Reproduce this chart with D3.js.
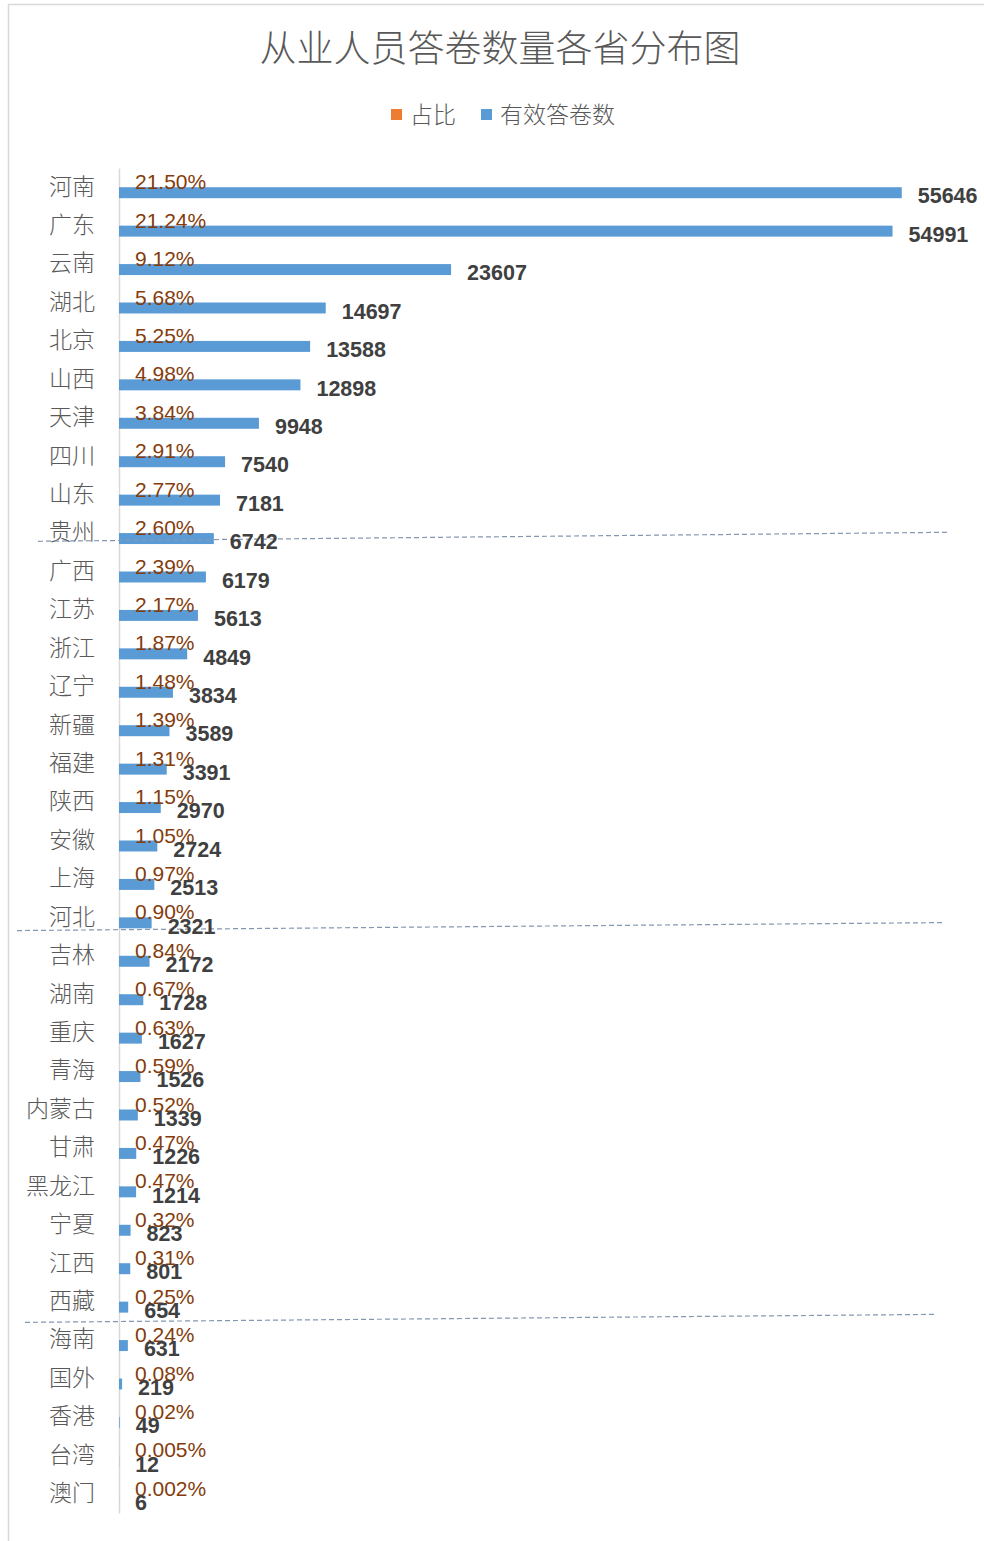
<!DOCTYPE html>
<html>
<head>
<meta charset="utf-8">
<script src="https://cdn.jsdelivr.net/npm/d3@7/dist/d3.min.js"></script>
<style>
  body { margin: 0; background: #fff; }
  svg { display: block; }
</style>
</head>
<body>
<div id="chart"></div>
<script>
// data
const provinces = ["河南", "广东", "云南", "湖北", "北京", "山西", "天津", "四川", "山东", "贵州",
  "广西", "江苏", "浙江", "辽宁", "新疆", "福建", "陕西", "安徽", "上海", "河北",
  "吉林", "湖南", "重庆", "青海", "内蒙古", "甘肃", "黑龙江", "宁夏", "江西", "西藏",
  "海南", "国外", "香港", "台湾", "澳门"];
const counts = [55646, 54991, 23607, 14697, 13588, 12898, 9948, 7540, 7181, 6742,
  6179, 5613, 4849, 3834, 3589, 3391, 2970, 2724, 2513, 2321,
  2172, 1728, 1627, 1526, 1339, 1226, 1214, 823, 801, 654,
  631, 219, 49, 12, 6];
const shares = ["21.50%", "21.24%", "9.12%", "5.68%", "5.25%", "4.98%", "3.84%", "2.91%", "2.77%", "2.60%",
  "2.39%", "2.17%", "1.87%", "1.48%", "1.39%", "1.31%", "1.15%", "1.05%", "0.97%", "0.90%",
  "0.84%", "0.67%", "0.63%", "0.59%", "0.52%", "0.47%", "0.47%", "0.32%", "0.31%", "0.25%",
  "0.24%", "0.08%", "0.02%", "0.005%", "0.002%"];
const series = ["占比", "有效答卷数"];
const seriesColors = ["#ED7D31", "#5B9BD5"];
// hand drawn dashed separators after these rows (top 10 / 20 / 30)
const separators = ["贵州", "河北", "西藏"];
const sepLeft = [38, 17, 25];
const sepRight = [950, 945, 937];
const sepDyLeft = [-11, -6, 1.5];
const sepDyRight = [-20, -14, -6.5];

const W = 984, H = 1541;
const cjk = "'Noto Sans CJK SC', 'Noto Sans', sans-serif";
const num = "'Liberation Sans', Arial, sans-serif";

const svg = d3.select("#chart").append("svg")
  .attr("width", W).attr("height", H);

// chart frame
svg.append("path")
  .attr("d", `M8.5,${H} V4.5 H${W}`)
  .attr("fill", "none").attr("stroke", "#D9D9D9").attr("stroke-width", 1.5);

const x = d3.scaleLinear().domain([0, 60000]).range([119, 963]);
const y = d3.scaleBand().domain(provinces).range([168, 1513]);
const ys = d3.scaleBand().domain(series).range([0, y.bandwidth()]).paddingOuter(0.75);

// title
svg.append("text")
  .attr("x", 500).attr("y", 62)
  .attr("text-anchor", "middle")
  .attr("font-family", cjk).attr("font-weight", 300)
  .attr("font-size", 37).attr("fill", "#595959")
  .text("从业人员答卷数量各省分布图");

// legend
const legend = svg.append("g");
const legX = [391, 481];
series.forEach((s, i) => {
  legend.append("rect")
    .attr("x", legX[i]).attr("y", 109).attr("width", 11).attr("height", 11)
    .attr("fill", seriesColors[i]);
  legend.append("text")
    .attr("x", legX[i] + 19).attr("y", 123)
    .attr("font-family", cjk).attr("font-weight", 300)
    .attr("font-size", 23).attr("fill", "#595959")
    .text(s);
});

// category axis
const axis = svg.append("g")
  .attr("transform", `translate(${x(0)},0)`)
  .call(d3.axisLeft(y).tickSize(0).tickPadding(24));
axis.select(".domain").attr("stroke", "#D9D9D9").attr("stroke-width", 1.5);
axis.selectAll("text")
  .attr("font-family", cjk).attr("font-weight", 300)
  .attr("font-size", 23).attr("fill", "#595959")
  .attr("dy", "0.32em");

const rows = provinces.map((p, i) => ({ p, count: counts[i], share: shares[i] }));

// 有效答卷数 bars
svg.append("g").selectAll("rect").data(rows).join("rect")
  .attr("x", x(0))
  .attr("y", d => y(d.p) + ys("有效答卷数"))
  .attr("width", d => x(d.count) - x(0))
  .attr("height", ys.bandwidth())
  .attr("fill", seriesColors[1]);

// 占比 bars (fractions, invisible at this scale)
svg.append("g").selectAll("rect").data(rows).join("rect")
  .attr("x", x(0))
  .attr("y", d => y(d.p) + ys("占比"))
  .attr("width", d => x(parseFloat(d.share) / 100) - x(0))
  .attr("height", ys.bandwidth())
  .attr("fill", seriesColors[0]);

// separators
separators.forEach((s, i) => {
  const yb = y(s) + y.step();
  svg.append("line")
    .attr("x1", sepLeft[i]).attr("x2", sepRight[i])
    .attr("y1", yb + sepDyLeft[i]).attr("y2", yb + sepDyRight[i])
    .attr("stroke", "#8497B0").attr("stroke-width", 1.2)
    .attr("stroke-dasharray", "5,3");
});

// share labels
svg.append("g").selectAll("text").data(rows).join("text")
  .attr("x", d => x(parseFloat(d.share) / 100) + 16)
  .attr("y", d => y(d.p) + ys("占比") + ys.bandwidth() / 2)
  .attr("dy", "0.36em")
  .attr("font-family", num).attr("font-size", 21)
  .attr("fill", "#843C0C")
  .text(d => d.share);

// count labels
svg.append("g").selectAll("text").data(rows).join("text")
  .attr("x", d => x(d.count) + 16)
  .attr("y", d => y(d.p) + ys("有效答卷数") + ys.bandwidth() / 2 + 3)
  .attr("dy", "0.36em")
  .attr("font-family", num).attr("font-weight", "bold").attr("font-size", 21.5)
  .attr("fill", "#404040")
  .text(d => d.count);
</script>
</body>
</html>
